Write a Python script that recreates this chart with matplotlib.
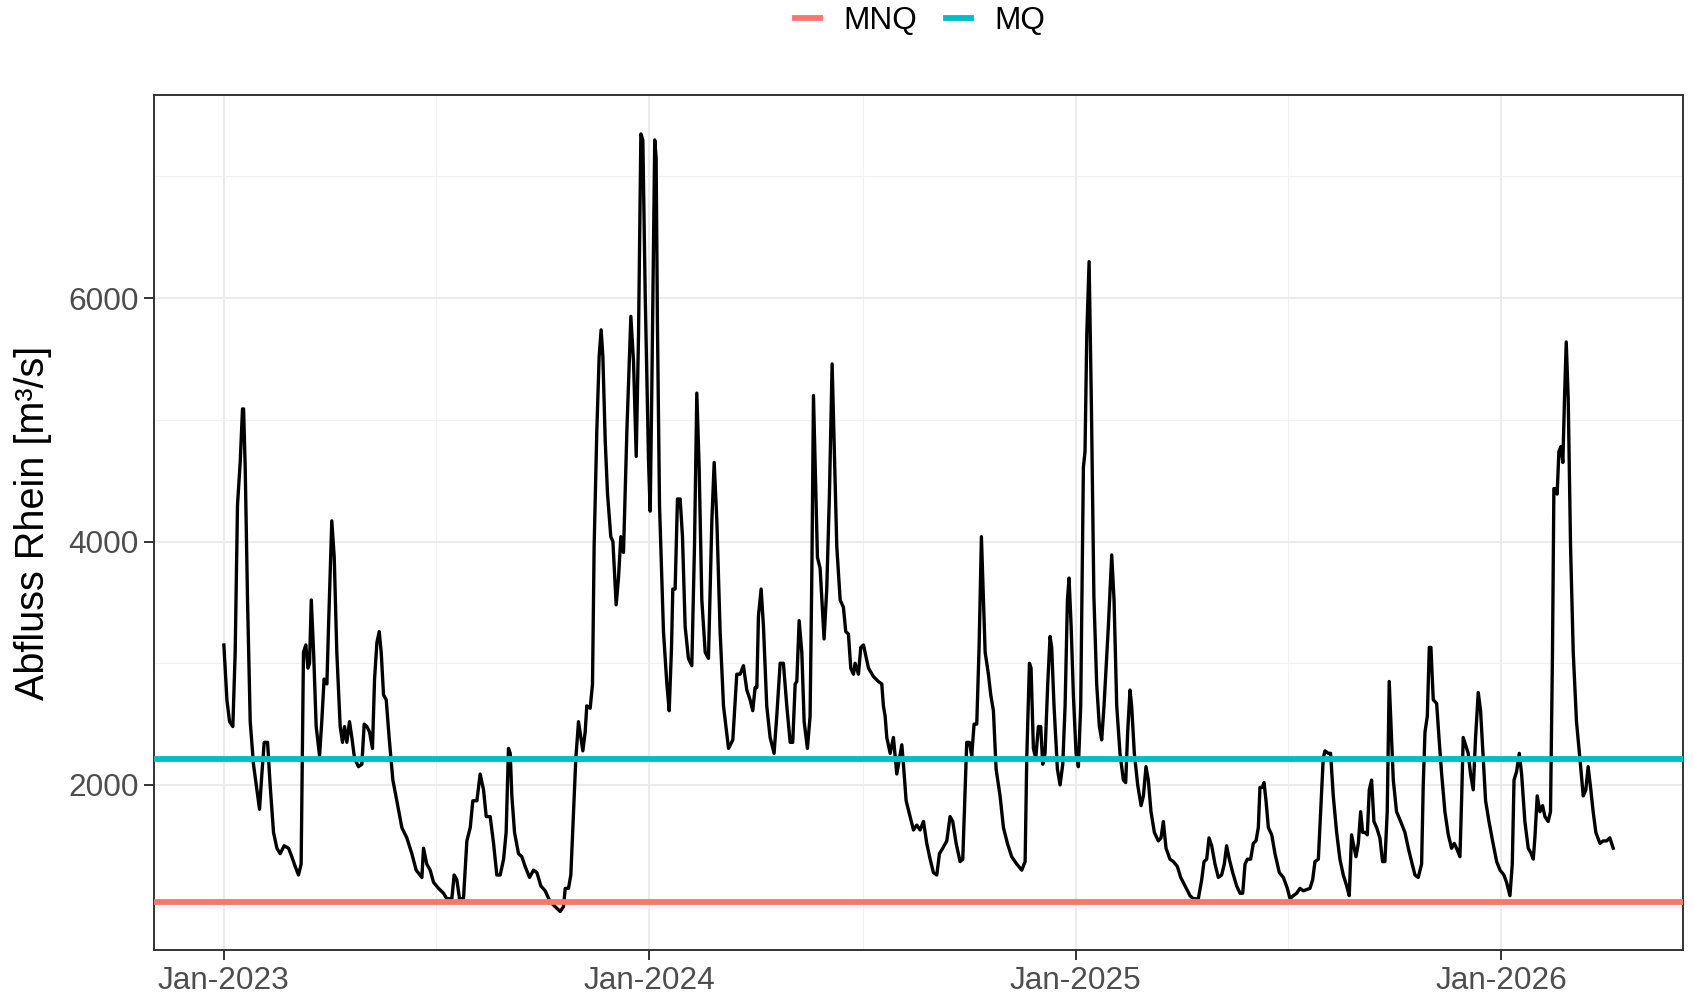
import matplotlib
matplotlib.use("Agg")
import matplotlib.pyplot as plt
import matplotlib.dates as mdates
from matplotlib.lines import Line2D
import numpy as np

start = np.datetime64("2023-01-01")

days = [
    0, 2.6, 4.9, 7.7, 9.7, 11.7, 14, 16, 16.9, 18.3, 20.3, 22.6, 25.4, 28.3, 30.6, 32.6, 34.6, 37.5, 39.7,
    42.6, 45.5, 48.3, 51.7, 55.5, 58.3, 61.2, 64, 66.3, 68.3, 70.3, 72.1, 73.5, 75, 77, 79.2, 82.1, 84, 86,
    88.4, 89.8, 92.6, 94.7, 96.9, 99.8, 101.8, 103.5, 105.5, 107.8, 109.8, 112.1, 115.5, 118.4, 120.4,
    122.7, 125, 127.5, 129.3, 131.3, 133.3, 135, 137, 139.3, 141.8, 145, 148.4, 152.7, 157, 161.3, 165,
    169.9, 171.3, 174.1, 177,
    179.9, 184.2, 188.5, 191.3, 195.6, 197.6, 199.9, 202.2, 205.6, 208.5, 211.4, 213.6, 217.1, 219.9,
    222.8, 225.1, 228.5, 231.4, 234.2, 237.1, 240, 242.2, 244.2, 245.7, 247.1, 249.4, 252.8, 255.7, 258.5,
    262.3, 265.7, 268.6, 272, 275.7, 280, 284.3, 288.6, 291.4, 292.9, 295.7, 297.7, 300, 302, 304.3, 308,
    310, 311.4, 314.3, 316.3, 317.7, 320, 322, 323.7, 325.2, 327.2, 329.2, 332, 333.8, 336.6, 338.6, 340.6,
    342.9, 345.8, 349.2, 351.5, 353.8, 355.8, 357.8, 359.5, 361.5, 364.4,
    365.8, 367.2, 369.7, 370.9, 372, 373.8, 377.2, 380.1, 382.1, 384.1, 385.2, 387.2, 389.2, 391.5, 393.5,
    395.8, 398.6, 401.5, 403.8, 405.8, 407.8, 410.1, 413, 415.8, 418.7, 420.7, 423, 425.8, 428.7, 433,
    436.7, 440.1, 443, 445.8, 448.7, 451.5, 453.8, 455.8, 457.3, 458.7, 461, 463, 465.8, 468.7, 472.1,
    474.4, 477.3, 480.1, 483, 485.9, 488.1, 490.2, 491.6, 493.6, 495.9, 497.9, 500.7, 503, 504.5, 505.9,
    507.3, 509.3, 511.6, 513.6, 515, 517.3, 519.6, 521.9, 523.6, 525.9, 528.8, 531.6, 533.6, 535.9, 537.9,
    540.2, 541.6, 544.5, 546.5, 548.8, 553.1,
    557.4, 561.6, 564.5, 565.9, 567.4, 568.8, 571.7, 574.5, 577.4, 579.7, 581.7, 583.1, 585.4, 588.8,
    591.7, 594.5, 597.4, 600.3, 603.1, 606, 608.8, 611.7, 614, 616.8, 620.3, 623.1, 625.4, 628.3, 631.7,
    634, 636, 637.4, 639.7, 641.7, 643.7, 646, 648, 650, 651.7, 653.2, 656, 658, 660.3, 662.6, 666, 668.9,
    672.3, 676, 680.3, 684.6, 687.5, 688.9, 691.2, 692.6, 694.6, 696.6, 698.9, 700.9, 702.6, 704.6, 706.9,
    708.9, 710.3, 712.3, 715.2, 717.5, 719.8, 721.8, 723.8, 725.2, 727, 728.9, 731.2, 733.2, 735.2, 737.5,
    738.9, 740.4, 742.4,
    744.4, 746.5, 748.9, 751.2, 753.2, 755.2, 758.9, 761.8, 763.8, 766.1, 768.9, 771.8, 773.8, 775.5,
    777.5, 778.9, 781.2, 784.1, 787, 789, 791.2, 793.2, 795.5, 798.4, 801.8, 804.1, 806.1, 808.4, 811.8,
    814.7, 818.1, 821, 824.7, 829, 831.8, 836.1, 839, 841, 843.3, 845.3, 847.6, 850.4, 853.3, 856.1, 858.4,
    860.4, 862.7, 865.6, 869, 871.9, 874.2, 876.2, 878.2, 881, 883.3, 885.6, 887.6, 889, 891, 892.5, 894.2,
    896.2, 899.1, 901.9, 905.6, 909.1, 912.5, 914.8, 917.6, 920.5, 923.3, 926.2, 929.1,
    931.9, 934.2, 936.2, 939.1, 941.1, 943.3, 944.8, 947.6, 949.6, 951.9, 954.8, 957.6, 960.5, 963.4,
    965.6, 967.6, 969.1, 971.4, 973.4, 975.4, 977.1, 979.1, 981.1, 982.8, 984.8, 986.8, 989.1, 991.9,
    994.2, 996.2, 998.2, 999.9, 1001.7, 1003.4, 1006.2, 1009.7, 1013.4, 1016.3, 1019.1, 1022, 1024.8,
    1027.7, 1029.1, 1030.6, 1032.6, 1034.3, 1035.7, 1037.7, 1040.6, 1042.6, 1044.9, 1047.7, 1050.6,
    1053.4, 1055.7, 1057.7, 1060.6, 1062, 1063.4, 1065.4, 1067.7, 1069.7, 1072, 1074, 1076.3, 1078.3,
    1080.6, 1082.6, 1085.5, 1088.6, 1092.1, 1095, 1098.3, 1100.6, 1103.5, 1105.5, 1107, 1109.2, 1111.5,
    1113.5, 1116.3, 1119.2,
    1121.5, 1123.5, 1124.9, 1126.9, 1129.2, 1131.5, 1133.5, 1136.3, 1138.3, 1140, 1141.2, 1142.9, 1144,
    1145.5, 1147.2, 1148.9, 1150.3, 1151.8, 1153.5, 1155.5, 1157.8, 1160.6, 1163.5, 1166.4, 1168.6,
    1170.6, 1172.9, 1174.9, 1177.2, 1180.7, 1183.5, 1186.4, 1189.2, 1192.1,
]

abfluss = [
    3150, 2700, 2520, 2480, 3090, 4300, 4650, 5090, 5090, 4610, 3520, 2520, 2170, 1960, 1800, 2090, 2350, 2350, 2000,
    1610, 1480, 1435, 1500, 1480, 1410, 1330, 1260, 1350, 3090, 3150, 2960, 3000, 3520, 3090, 2480, 2240, 2520, 2870,
    2830, 3300, 4170, 3870, 3090, 2480, 2350, 2480, 2350, 2520, 2390, 2220, 2150, 2170, 2500,
    2480, 2435, 2300, 2870, 3170, 3260, 3090, 2740, 2700, 2390, 2040, 1870, 1650, 1565, 1435, 1300,
    1240, 1480, 1350, 1300,
    1200, 1150, 1110, 1065, 1065, 1260, 1220, 1065, 1065, 1540, 1650, 1870, 1870, 2090,
    1960, 1740, 1740, 1520, 1260, 1260, 1390, 1610, 2300, 2260, 1910, 1610, 1435, 1410, 1330,
    1240, 1300, 1280, 1170, 1130, 1040, 1000, 960, 1000, 1150, 1150, 1260, 1780, 2220, 2520, 2280,
    2435, 2650, 2630, 2830, 3960, 4910, 5520, 5740, 5520, 4830, 4390, 4040, 4000, 3480, 3700, 4040,
    3910, 4910, 5850, 5480, 4700, 5700, 7350, 7300, 6040, 4650,
    4250, 5260, 7300, 7150, 5800, 4300, 3260, 2830, 2610, 3130, 3610, 3610, 4350, 4350, 4040,
    3300, 3040, 2980, 3960, 5220, 4610, 3520, 3090, 3040, 4170, 4650, 4170, 3260, 2650, 2300,
    2370, 2910, 2910, 2980, 2780, 2700, 2610, 2800, 2800, 3390, 3610, 3300, 2650, 2390, 2260,
    2565, 3000, 3000, 2650, 2350, 2350, 2830, 2850, 3350, 3090, 2520, 2300, 2565, 3740, 5200,
    4650, 3870, 3780, 3435, 3200, 3610, 4390, 5460, 4830, 3960, 3520, 3460, 3260, 3240, 2960,
    2910, 3000, 2910, 3130, 3150, 2960,
    2890, 2850, 2830, 2650, 2565, 2390, 2260, 2390, 2090, 2220, 2330, 2170, 1870, 1740,
    1630, 1670, 1630, 1700, 1520, 1390, 1280, 1260, 1435, 1480, 1540, 1740, 1700, 1520, 1370,
    1390, 1960, 2350, 2350, 2240, 2500, 2500, 3130, 4040, 3520, 3090, 2910, 2740, 2610, 2130, 1910, 1650,
    1520, 1410, 1350, 1300, 1370, 2220, 3000, 2960, 2300, 2220, 2480, 2480, 2170, 2260, 2830,
    3220, 3130, 2650, 2130, 2000, 2170, 2650, 3520, 3700, 3300, 2740, 2260, 2150, 2650, 4610,
    4740, 5700, 6300,
    5100, 3550, 2830, 2480, 2370, 2650, 3300, 3890, 3520, 2650, 2260, 2040, 2020, 2435,
    2780, 2650, 2260, 2000, 1830, 1910, 2150, 2040, 1780, 1610, 1540, 1565, 1700, 1480, 1390,
    1370, 1330, 1240, 1170, 1090, 1065, 1065, 1220, 1370, 1390, 1565, 1500, 1350, 1240, 1260, 1350,
    1500, 1390, 1280, 1170, 1110, 1110, 1350, 1390, 1390, 1520, 1540, 1650, 1980, 1980, 2020, 1870,
    1650, 1590, 1435, 1280, 1240, 1150, 1065, 1090, 1110, 1150, 1130, 1140,
    1150, 1220, 1370, 1390, 1780, 2220, 2280, 2260, 2260, 1910, 1610, 1390, 1260, 1170,
    1090, 1590, 1520, 1410, 1520, 1780, 1610, 1610, 1590, 1960, 2040, 1700, 1650, 1565,
    1370, 1370, 1780, 2850, 2435, 2040, 1780, 1700, 1610, 1480, 1370, 1260, 1240,
    1350, 2000, 2435, 2565, 3130, 3130, 2700, 2670, 2390, 2090, 1780, 1590,
    1480, 1520, 1480, 1410, 1870, 2390, 2330, 2260, 2090, 1960, 2390, 2760, 2610,
    2220, 1870, 1700, 1540, 1370, 1300, 1260, 1200, 1090, 1350, 2040, 2110, 2260,
    2090, 1700, 1480,
    1440, 1390, 1565, 1910, 1780, 1830, 1740, 1700, 1780, 3090, 4435, 4435, 4390,
    4740, 4780, 4650, 5170, 5640, 5170, 3960, 3090, 2520, 2220, 1910, 1960,
    2150, 1960, 1780, 1610, 1520, 1540, 1540, 1565, 1480,
]

MNQ = 1035
MQ = 2210

dates = start + (np.array(days) * 24 * 60).astype("timedelta64[m]")
abfluss = np.array(abfluss)

plt.rcParams["font.family"] = ["Liberation Sans", "DejaVu Sans"]

fig = plt.figure(figsize=(16.93, 9.96), dpi=100)
ax = fig.add_axes([0.0912, 0.0458, 0.9027, 0.8588])

ax.plot(dates, abfluss, color="black", lw=2.4, zorder=3, solid_joinstyle="round")
ax.axhline(MNQ, color="#F8766D", lw=4.2, zorder=4)
ax.axhline(MQ, color="#00BFC4", lw=4.2, zorder=4)

# ggplot-artige Achsen (5% expand)
span = days[-1] - days[0]
x0 = start + np.timedelta64(int(-0.05 * span * 24 * 60), "m")
x1 = start + np.timedelta64(int((days[-1] + 0.05 * span) * 24 * 60), "m")
ax.set_xlim(x0, x1)
lo, hi = abfluss.min(), abfluss.max()
ax.set_ylim(lo - 0.05 * (hi - lo), hi + 0.05 * (hi - lo))

ax.xaxis.set_major_locator(mdates.MonthLocator(bymonth=1))
ax.xaxis.set_minor_locator(mdates.MonthLocator(bymonth=7, bymonthday=2))
ax.xaxis.set_major_formatter(mdates.DateFormatter("%b-%Y"))
ax.set_yticks([2000, 4000, 6000])
ax.set_yticks([1000, 3000, 5000, 7000], minor=True)

ax.grid(which="major", color="#EBEBEB", lw=1.5, zorder=0)
ax.grid(which="minor", color="#F0F0F0", lw=0.8, zorder=0)
ax.set_axisbelow(True)

ax.tick_params(which="major", length=7, width=1.4, color="#333333",
               labelsize=22.7, labelcolor="#4D4D4D", pad=4)
ax.tick_params(which="minor", length=0)
for s in ax.spines.values():
    s.set_color("#333333")
    s.set_linewidth(1.4)

ax.set_ylabel("Abfluss Rhein [m³/s]", fontsize=28.5, color="black", labelpad=12)

handles = [Line2D([], [], color="#F8766D", lw=4.2), Line2D([], [], color="#00BFC4", lw=4.2)]
fig.legend(handles, ["MNQ", "MQ"], loc="center", bbox_to_anchor=(0.5435, 0.979), ncol=2,
           frameon=False, fontsize=22.7, handlelength=0.8, handletextpad=0.75, columnspacing=0.9)

fig.savefig("out.png", dpi=100)
